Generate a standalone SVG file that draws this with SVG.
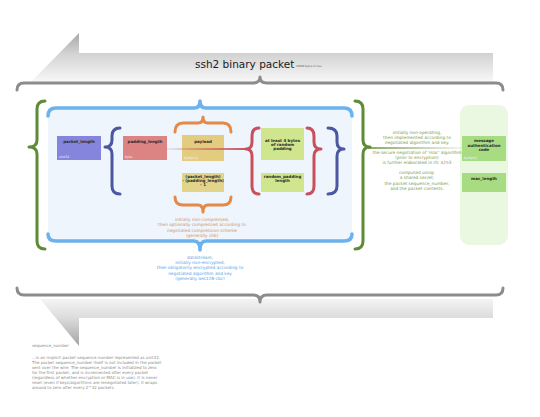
<svg xmlns="http://www.w3.org/2000/svg" width="540" height="417" viewBox="0 0 540 417">
<defs>
<linearGradient id="gTop" gradientUnits="userSpaceOnUse" x1="0" y1="33" x2="0" y2="84">
<stop offset="0" stop-color="#a8a8a8"/><stop offset="0.4" stop-color="#d2d2d2"/><stop offset="1" stop-color="#fbfbfb"/>
</linearGradient>
<linearGradient id="gBot" gradientUnits="userSpaceOnUse" x1="0" y1="299" x2="0" y2="346">
<stop offset="0" stop-color="#f4f4f4"/><stop offset="0.4" stop-color="#dcdcdc"/><stop offset="1" stop-color="#a4a4a4"/>
</linearGradient>
<linearGradient id="gRed" gradientUnits="userSpaceOnUse" x1="167" y1="0" x2="247" y2="0">
<stop offset="0" stop-color="#c8505a" stop-opacity="0.1"/><stop offset="1" stop-color="#c8505a" stop-opacity="1"/>
</linearGradient>
<linearGradient id="gGreen" gradientUnits="userSpaceOnUse" x1="368" y1="0" x2="462" y2="0">
<stop offset="0" stop-color="#5e8c36" stop-opacity="1"/><stop offset="1" stop-color="#5e8c36" stop-opacity="0.1"/>
</linearGradient>
</defs>
<style>
text{font-family:"DejaVu Sans","Liberation Sans",sans-serif;}
.brace{fill:none;stroke-linecap:round;stroke-linejoin:round;}
.grey{stroke:#8c8c8c;stroke-width:3;}
.green{stroke:#5e8c36;stroke-width:3;}
.blue{stroke:#6cb2ec;stroke-width:3.5;}
.navy{stroke:#4b57a0;stroke-width:3;}
.red{stroke:#c8505a;stroke-width:3;}
.orange{stroke:#e48a48;stroke-width:3;}
.nt{font-size:4px;font-weight:bold;text-anchor:middle;fill:#2a2a2a;}
.sl{font-size:3.2px;fill:#f4f4ff;}
.ann{font-size:4.3px;text-anchor:middle;}
.orn{fill:#cf9468;}
.bln{fill:#5aa0e4;}
.grn{fill:#7b9a4e;}
.note{font-size:4px;fill:#8a8a8a;}
</style>

<g id="background-arrows">
<polygon points="79,33 79,53 493,53 493,83 30,83" fill="url(#gTop)"/>
<polygon points="40,299 493,299 493,318 79,318 79,346" fill="url(#gBot)"/>
<rect x="48" y="108" width="304" height="133" fill="#eef5fd"/>
<rect x="460" y="105" width="48" height="140" rx="9" fill="#eaf8e2"/>
</g>

<g id="title">
<text x="195" y="68" font-size="10.5" fill="#1a1a1a">ssh2 binary packet</text>
<text x="296" y="67" font-size="2.6" fill="#555">35000 bytes or less</text>
</g>

<g id="connectors">
<path class="brace grey" d="M17,90 Q17,83 24,83 L253,83 Q260,83 260,77 Q260,83 267,83 L496,83 Q503,83 503,90"/>
<path class="brace grey" d="M17,288 Q17,295 24,295 L253,295 Q260,295 260,302 Q260,295 267,295 L496,295 Q503,295 503,288"/>
<path class="brace green" d="M45,101 Q37,101 37,109 L37,140 Q37,147 29,147 Q37,147 37,154 L37,241 Q37,249 45,249"/>
<path class="brace green" d="M355,101 Q363,101 363,109 L363,140 Q363,147 370,147 Q363,147 363,154 L363,241 Q363,249 355,249"/>
<path class="brace blue" d="M48,116 Q48,108 56,108 L194,108 Q200,108 200,101 Q200,108 206,108 L344,108 Q352,108 352,116"/>
<path class="brace blue" d="M48,234 Q48,241 56,241 L194,241 Q200,241 200,250 Q200,241 206,241 L344,241 Q352,241 352,234"/>
<path class="brace navy" d="M120,128 Q112,128 112,136 L112,140 Q112,147 105,147 Q112,147 112,154 L112,186 Q112,194 120,194"/>
<path class="brace navy" d="M328,128 Q337,128 337,136 L337,142 Q337,149 344,149 Q337,149 337,156 L337,186 Q337,194 328,194"/>
<path class="brace orange" d="M175,132 Q175,123 183,123 L198,123 Q203,123 203,117 Q203,123 208,123 L223,123 Q231,123 231,132"/>
<path class="brace orange" d="M175,197 Q175,205 183,205 L198,205 Q203,205 203,212 Q203,205 208,205 L223,205 Q231,205 231,197"/>
<path class="brace red" d="M259,128 Q252,128 252,136 L252,142 Q252,149 246,149 Q252,149 252,156 L252,186 Q252,194 259,194"/>
<path class="brace red" d="M307,128 Q314,128 314,136 L314,142 Q314,149 321,149 Q314,149 314,156 L314,186 Q314,194 307,194"/>
<line x1="368" y1="148" x2="462" y2="148" stroke="url(#gGreen)" stroke-width="1.5"/>
</g>

<g id="node-packet-length">
<rect x="57" y="136" width="44" height="24" fill="#8585dd"/>
<text class="nt" x="79" y="143" fill="#1c1c5a">packet_length</text>
<text class="sl" x="59" y="158">uint32</text>
</g>

<g id="node-padding-length">
<rect x="123" y="136" width="44" height="24" fill="#dc8484"/>
<text class="nt" x="145" y="143">padding_length</text>
<text class="sl" x="125" y="158">byte</text>
</g>

<g id="node-payload">
<rect x="182" y="135" width="42" height="26" fill="#e3cc80"/>
<text class="nt" x="203" y="143">payload</text>
<text class="sl" x="184" y="159" fill="#fff4d0">byte[n1]</text>
</g>

<g id="node-payload-length">
<rect x="182" y="173" width="42" height="19" fill="#e3d48c"/>
<text class="nt" x="203" y="178">(packet_length)</text>
<text class="nt" x="203" y="182">- (padding_length)</text>
<text class="nt" x="203" y="186">- 1</text>
</g>

<g id="red-link">
<line x1="167" y1="149" x2="247" y2="149" stroke="url(#gRed)" stroke-width="2"/>
</g>

<g id="node-random-padding">
<rect x="261" y="128" width="43" height="32" fill="#cfe68e"/>
<text class="nt" x="282.5" y="142">at least 4 bytes</text>
<text class="nt" x="282.5" y="146">of random</text>
<text class="nt" x="282.5" y="150">padding</text>
</g>

<g id="node-random-padding-length">
<rect x="261" y="173" width="43" height="19" fill="#cfe68e"/>
<text class="nt" x="282.5" y="178">random_padding</text>
<text class="nt" x="282.5" y="182">length</text>
</g>

<g id="node-mac">
<rect x="462" y="136" width="44" height="25" fill="#a8dc82"/>
<text class="nt" x="484" y="142">message</text>
<text class="nt" x="484" y="146.5">authentication</text>
<text class="nt" x="484" y="151">code</text>
<text class="sl" x="464" y="159" fill="#eefae4">byte[m]</text>
</g>

<g id="node-mac-length">
<rect x="462" y="173" width="44" height="19" fill="#a8dc82"/>
<text class="nt" x="484" y="180">mac_length</text>
</g>

<g id="annotation-compression">
<text class="ann orn" x="202" y="221">initially non-compressed,</text>
<text class="ann orn" x="202" y="226">then optionally compressed according to</text>
<text class="ann orn" x="202" y="231.5">negotiated compression scheme</text>
<text class="ann orn" x="202" y="236.5">(generally zlib)</text>
</g>

<g id="annotation-encryption">
<text class="ann bln" x="200" y="259">datastream,</text>
<text class="ann bln" x="200" y="264">initially non-encrypted,</text>
<text class="ann bln" x="200" y="269">then obligatorily encrypted according to</text>
<text class="ann bln" x="200" y="274.5">negotiated algorithm and key</text>
<text class="ann bln" x="200" y="279.5">(generally aes128-cbc)</text>
</g>

<g id="annotation-mac">
<text class="ann grn" x="417" y="134">initially non-operating,</text>
<text class="ann grn" x="417" y="139">then implemented according to</text>
<text class="ann grn" x="417" y="144">negotiated algorithm and key.</text>
<text class="ann grn" x="417" y="154">the secure negotiation of 'mac' algorithm</text>
<text class="ann grn" x="417" y="159">(prior to encryption)</text>
<text class="ann grn" x="417" y="164">is further elaborated in rfc 4253</text>
<text class="ann grn" x="417" y="174">computed using:</text>
<text class="ann grn" x="417" y="179">a shared secret,</text>
<text class="ann grn" x="417" y="184.5">the packet sequence_number,</text>
<text class="ann grn" x="417" y="189.5">and the packet contents.</text>
</g>

<g id="note-sequence-number">
<text class="note" x="32" y="347">sequence_number</text>
<text class="note" x="32" y="359">...is an implicit packet sequence number represented as uint32.</text>
<text class="note" x="32" y="364">The packet sequence_number itself is not included in the packet</text>
<text class="note" x="32" y="369">sent over the wire. The sequence_number is initialized to zero</text>
<text class="note" x="32" y="374">for the first packet, and is incremented after every packet</text>
<text class="note" x="32" y="379">(regardless of whether encryption or MAC is in use). It is never</text>
<text class="note" x="32" y="384">reset (even if keys/algorithms are renegotiated later). It wraps</text>
<text class="note" x="32" y="389">around to zero after every 2^32 packets.</text>
</g>
</svg>
